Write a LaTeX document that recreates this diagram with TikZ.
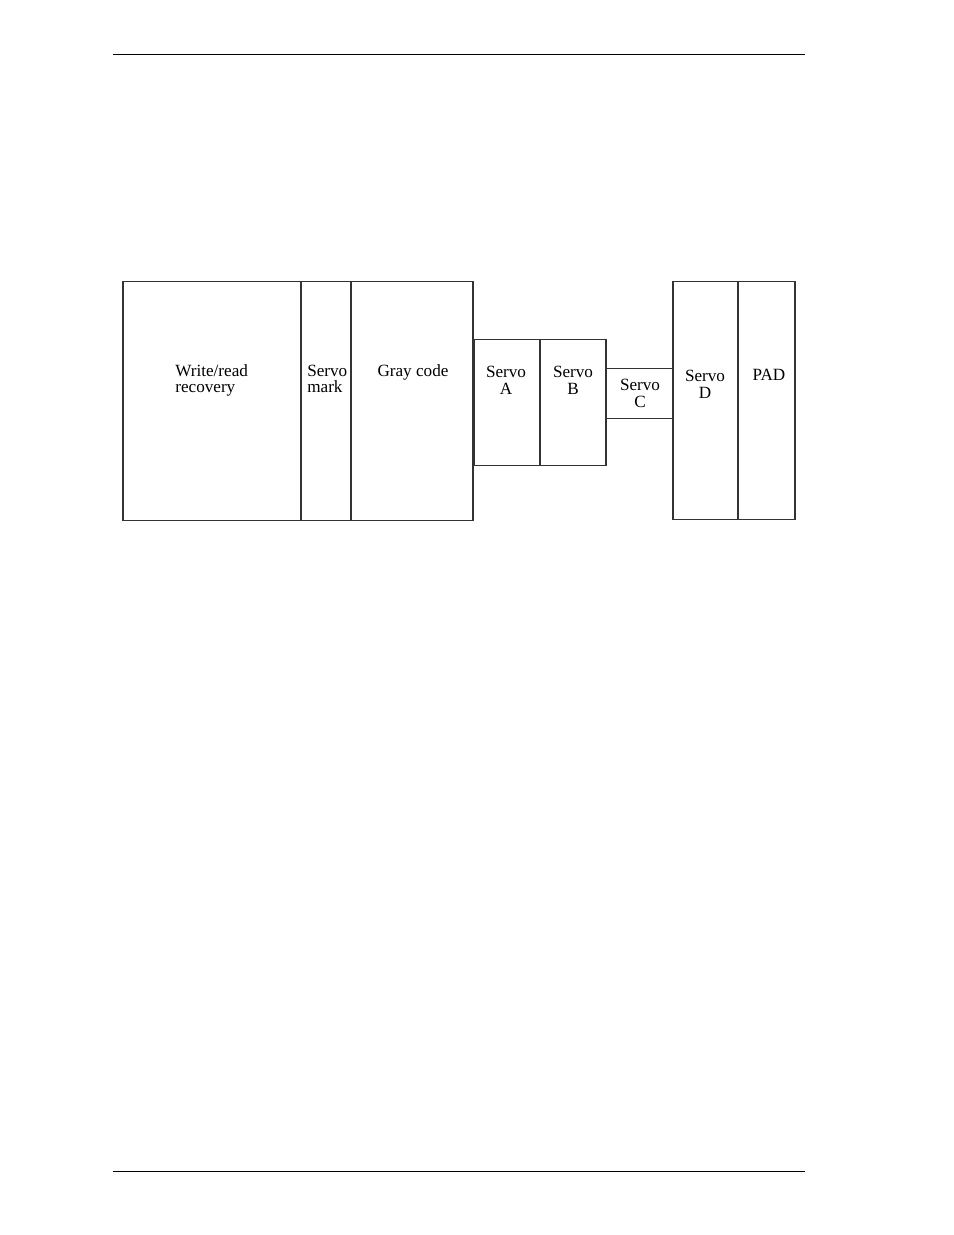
\documentclass[tikz,border=0pt]{standalone}
\usepackage{fontspec}
\setmainfont{Liberation Serif}
\begin{document}
\begin{tikzpicture}[x=0.6415pt,y=-0.6415pt,
  box/.style={draw=black!80,line width=0.65pt,inner sep=0pt,outer sep=0pt},
  lbl/.style={inner sep=0pt,font=\fontsize{11}{11}\selectfont},
  rule/.style={draw=black,line width=0.6pt}]
\useasboundingbox (0,0) rectangle (954,1235);
% page rules
\coordinate (h1) at (113,54);  \coordinate (h2) at (805,54);
\coordinate (f1) at (113,1171); \coordinate (f2) at (805,1171);
\draw[rule] (h1) -- (h2);
\draw[rule] (f1) -- (f2);
% boxes
\node[box,minimum width=178*0.6415pt,minimum height=239*0.6415pt] (wr) at (212,400.5) {};
\node[box,minimum width=50*0.6415pt,minimum height=239*0.6415pt] (sm) at (326,400.5) {};
\node[box,minimum width=122*0.6415pt,minimum height=239*0.6415pt] (gc) at (412,400.5) {};
\node[box,minimum width=66*0.6415pt,minimum height=126*0.6415pt] (sa) at (507,402) {};
\node[box,minimum width=66*0.6415pt,minimum height=126*0.6415pt] (sb) at (573,402) {};
\node[box,minimum width=67*0.6415pt,minimum height=50*0.6415pt] (sc) at (639.5,393) {};
\node[box,minimum width=65*0.6415pt,minimum height=238*0.6415pt] (sd) at (705.5,400) {};
\node[box,minimum width=57*0.6415pt,minimum height=238*0.6415pt] (pad) at (766.5,400) {};
% labels
\node[lbl,anchor=base west] (wr1) at (175,376) {Write/read};
\node[lbl,anchor=base west] (wr2) at (175,392) {recovery};
\node[lbl,anchor=base west] (sm1) at (307,376) {Servo};
\node[lbl,anchor=base west] (sm2) at (307,392) {mark};
\node[lbl,anchor=base] (gc1) at (413,376) {Gray code};
\node[lbl,anchor=base] (sa1) at (506,377) {Servo};
\node[lbl,anchor=base] (sa2) at (506,394) {A};
\node[lbl,anchor=base] (sb1) at (573,377) {Servo};
\node[lbl,anchor=base] (sb2) at (573,394) {B};
\node[lbl,anchor=base] (sc1) at (640,390) {Servo};
\node[lbl,anchor=base] (sc2) at (640,407) {C};
\node[lbl,anchor=base] (sd1) at (705,381) {Servo};
\node[lbl,anchor=base] (sd2) at (705,398) {D};
\node[lbl,anchor=base] (pad1) at (769,380) {PAD};
\end{tikzpicture}
\end{document}
